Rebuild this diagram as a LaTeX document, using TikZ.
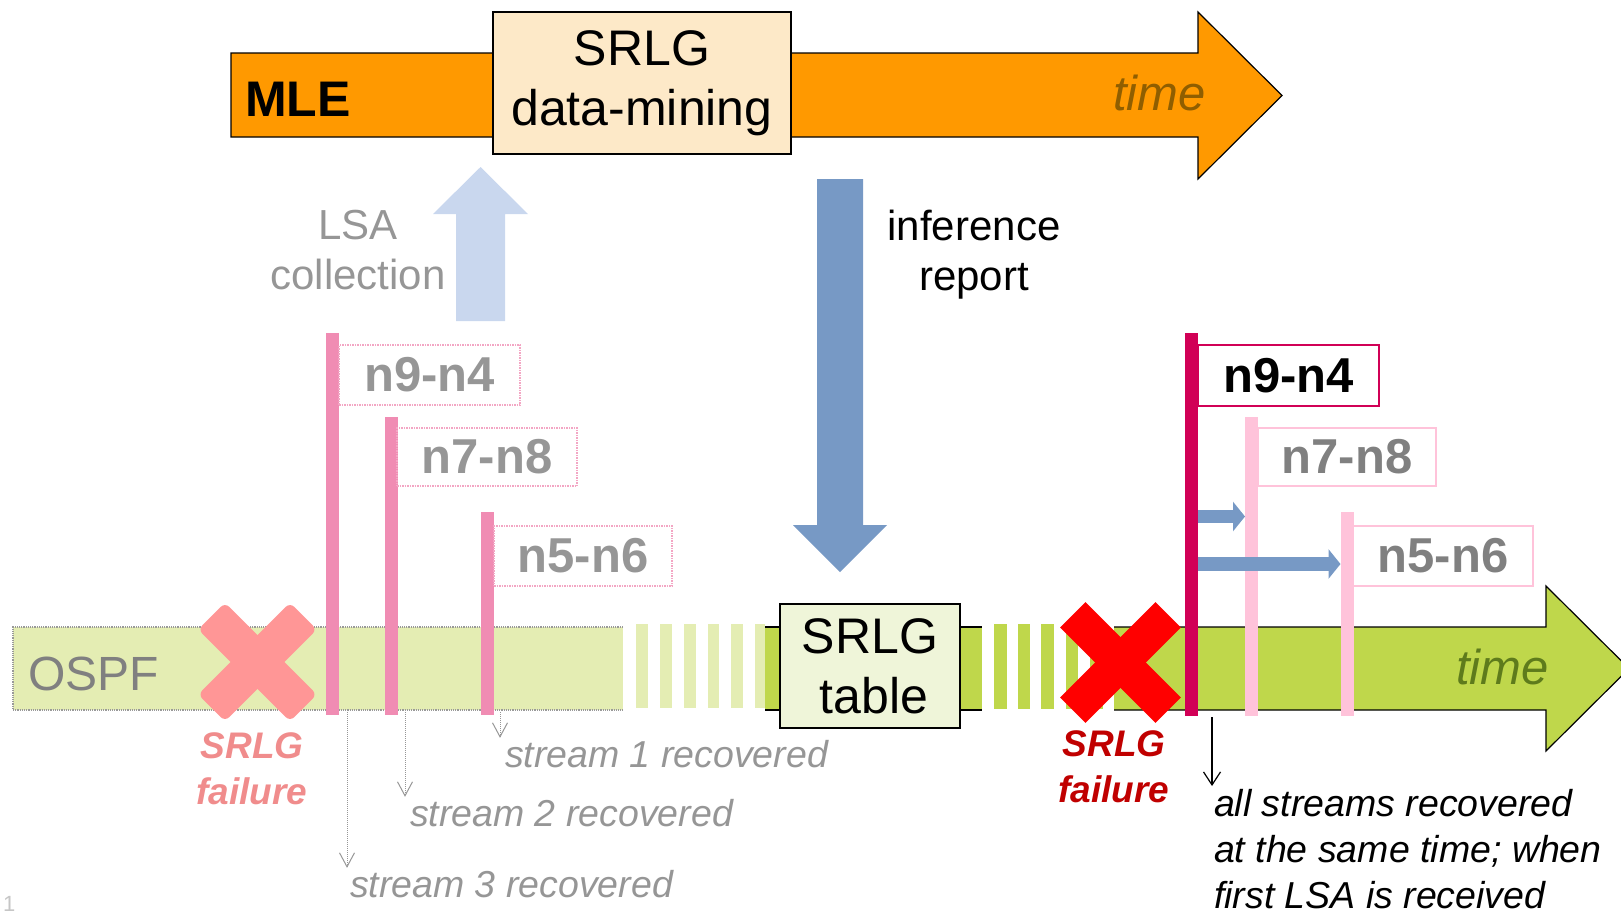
\documentclass[tikz,border=0pt]{standalone}
\usepackage{fontspec}
\setmainfont{Liberation Sans}
\usetikzlibrary{arrows.meta,calc}

\definecolor{mleorange}{HTML}{FF9900}
\definecolor{minebox}{HTML}{FDE9C8}
\definecolor{timebrown}{HTML}{8F5E00}
\definecolor{ospfgreen}{HTML}{BFD74B}
\definecolor{timegreen}{HTML}{5E7B1C}
\definecolor{tablebox}{HTML}{EFF5D9}
\definecolor{reportblue}{HTML}{7799C5}
\definecolor{lsablue}{HTML}{C9D7EE}
\definecolor{lsacrimson}{HTML}{D10056}
\definecolor{lsapink}{HTML}{FFC3DA}
\definecolor{fadeband}{HTML}{E4EDB3}
\definecolor{fadebar}{HTML}{F08CB3}
\definecolor{fadeframe}{HTML}{F3A6C4}
\definecolor{fadetext}{HTML}{969696}
\definecolor{fadecross}{HTML}{FF9696}
\definecolor{fadefail}{HTML}{F08C8C}
\definecolor{failred}{HTML}{C00000}
\definecolor{labelgray}{HTML}{808080}

\begin{document}
\begin{tikzpicture}[x=1pt,y=-1pt,
  every node/.style={inner sep=0pt, outer sep=0pt},
  bigtext/.style={font=\fontsize{50}{60}\selectfont},
  midtext/.style={font=\fontsize{42}{50.4}\selectfont},
  notetext/.style={font=\fontsize{37.5}{46}\selectfont\itshape},
  linktext/.style={font=\fontsize{49}{59}\selectfont\bfseries},
  failtext/.style={font=\fontsize{37}{46}\selectfont\bfseries\itshape, align=center},
  timetext/.style={font=\fontsize{49}{59}\selectfont\itshape},
  stepbox/.style={draw=black, line width=1.5pt, align=center, bigtext},
  lsabar/.style={minimum width=13pt, draw=none},
  linkbox/.style={line width=1.5pt, linktext},
  block/.style={draw=black, line width=1.2pt},
  fadeedge/.style={draw=gray!80, line width=1.2pt, densely dotted},
  fadeframebox/.style={linkbox, draw=fadeframe, densely dotted, text=fadetext},
  fadearrow/.style={draw=fadetext, line width=1pt, densely dotted,
    -{Straight Barb[length=14pt,width=15pt]}, shorten >=2pt},
  recarrow/.style={draw=black, line width=1.2pt,
    -{Straight Barb[length=13pt,width=17pt]}, shorten >=3pt},
  pushed/.style={draw=reportblue, line width=13.5pt, -{Triangle[length=12pt,width=29pt]}},
]
\useasboundingbox (0,0) rectangle (1621,914);
\clip (0,0) rectangle (1621,914);

% ---------- MLE time line ----------
\filldraw[block, fill=mleorange] (231,53) -- (1198,53) -- (1198,12) -- (1282,95.5)
  -- (1198,179) -- (1198,137) -- (231,137) -- cycle;
\node[stepbox, fill=minebox, minimum width=298pt, minimum height=142pt] (mine) at (642,83) {SRLG\\data-mining};
\node[font=\fontsize{50}{60}\selectfont\bfseries, anchor=base west] (mle) at (245,116) {MLE};
\node[timetext, text=timebrown, anchor=base west] (mletime) at (1113,110) {time};

% ---------- LSA collection (faded) ----------
\fill[lsablue] (456,321) -- (456,214) -- (433,214) -- (480.5,167) -- (528,214)
  -- (505,214) -- (505,321) -- cycle;
\node[midtext, text=fadetext, align=center, anchor=north] (lsa) at (358,210) {LSA\\collection};

% ---------- inference report ----------
\fill[reportblue] (817,179) -- (863,179) -- (863,525) -- (887,525) -- (840,572)
  -- (793,525) -- (817,525) -- cycle;
\node[midtext, align=center, anchor=north] (inf) at (974,210) {inference\\report};

% ---------- OSPF time line ----------
% faded first part
\fill[fadeband] (13,627) rectangle (623,710);
\draw[fadeedge] (623,627) -- (13,627) -- (13,710) -- (623,710);
\foreach \x in {636,660,684,707.5,731}
  \fill[fadeband] (\x,624) rectangle ++(11.5,84);
\fill[fadeband] (755,624) rectangle (765,708);
% solid part around the table
\fill[ospfgreen] (765,627) rectangle (982,710);
\draw[block] (765,627) -- (982,627) (765,710) -- (982,710);
\foreach \x in {994,1017.5,1041,1065.5,1090}
  \fill[ospfgreen] (\x,624) rectangle ++(12.5,85);
% final arrow
\fill[ospfgreen] (1114,627) -- (1546,627) -- (1546,586) -- (1629,668.5) -- (1546,751)
  -- (1546,710) -- (1114,710) -- cycle;
\draw[block] (1114,627) -- (1546,627) -- (1546,586) -- (1629,668.5) -- (1546,751)
  -- (1546,710) -- (1114,710);

\node[stepbox, fill=tablebox, minimum width=180pt, minimum height=124pt] (tbl) at (870,666) {SRLG\\\hspace{8pt}table};
\node[font=\fontsize{48}{58}\selectfont, text=fadetext!85!black, anchor=base west] (ospf) at (28,690) {OSPF};
\node[timetext, text=timegreen, anchor=base west] (ospftime) at (1456,684) {time};

% ---------- failures ----------
\fill[fadecross, rounded corners=6pt, rotate around={45:(257.5,662)}] (192.5,643) rectangle (322.5,681);
\fill[fadecross, rounded corners=6pt, rotate around={-45:(257.5,662)}] (192.5,643) rectangle (322.5,681);
\node[failtext, text=fadefail, anchor=north] (fail1) at (252,733) {SRLG\\failure};

\fill[red, rotate around={45:(1120.5,662.5)}] (1053,644.5) rectangle (1188,680.5);
\fill[red, rotate around={-45:(1120.5,662.5)}] (1053,644.5) rectangle (1188,680.5);
\node[failtext, text=failred, anchor=north] (fail2) at (1114,731) {SRLG\\failure};

% ---------- LSAs received one by one (faded) ----------
\node[lsabar, fill=fadebar, minimum height=382pt] (fb1) at (332,524) {};
\node[lsabar, fill=fadebar, minimum height=298pt] (fb2) at (391.5,566) {};
\node[lsabar, fill=fadebar, minimum height=203pt] (fb3) at (487.5,613.5) {};
\node[fadeframebox, minimum width=181pt, minimum height=60pt] (fl1) at (429.5,375) {n9-n4\hspace{10pt}};
\node[fadeframebox, minimum width=180pt, minimum height=58pt] (fl2) at (487,457) {n7-n8\hspace{12pt}};
\node[fadeframebox, minimum width=178pt, minimum height=60pt] (fl3) at (583,556) {n5-n6\hspace{4pt}};

\node[notetext, text=fadetext, anchor=base west] (s1) at (505,767) {stream 1 recovered};
\node[notetext, text=fadetext, anchor=base west] (s2) at (410,826) {stream 2 recovered};
\node[notetext, text=fadetext, anchor=base west] (s3) at (350,897) {stream 3 recovered};

\coordinate (a1) at (500,712);
\coordinate (a2) at (405,712);
\coordinate (a3) at (347,712);
\draw[fadearrow] (a1) -- (a1 |- s1.north);
\draw[fadearrow] (a2) -- (a2 |- s2.north);
\draw[fadearrow] (a3) -- (a3 |- s3.north);

% ---------- LSAs with SRLG table ----------
\node[lsabar, fill=lsacrimson, minimum height=383pt] (rb1) at (1191.5,524.5) {};
\node[lsabar, fill=lsapink, minimum height=299pt] (rb2) at (1251.5,566.5) {};
\node[lsabar, fill=lsapink, minimum height=204pt] (rb3) at (1347,614) {};
\node[linkbox, draw=lsacrimson, minimum width=181pt, minimum height=61pt] (rl1) at (1288.5,375.5) {n9-n4\hspace{10pt}};
\node[linkbox, draw=lsapink, text=labelgray, minimum width=178pt, minimum height=58pt] (rl2) at (1347,457) {n7-n8\hspace{13pt}};
\node[linkbox, draw=lsapink, text=labelgray, minimum width=180pt, minimum height=60pt] (rl3) at (1443,556) {n5-n6\hspace{3pt}};

\coordinate (ya) at (0,516.5);
\coordinate (yb) at (0,564);
\draw[pushed] (rb1.east |- ya) -- (rb2.west |- ya);
\draw[pushed] (rb1.east |- yb) -- (rb3.west |- yb);

\node[notetext, align=left, anchor=north west] (all) at (1214,789)
  {all streams recovered\\at the same time; when\\first LSA is received};
\coordinate (ar) at (1212,717);
\draw[recarrow] (ar) -- (ar |- all.north);

\node[font=\fontsize{22}{26}\selectfont, text=gray!45, anchor=base west] (pg) at (3,911) {1};
\end{tikzpicture}
\end{document}
